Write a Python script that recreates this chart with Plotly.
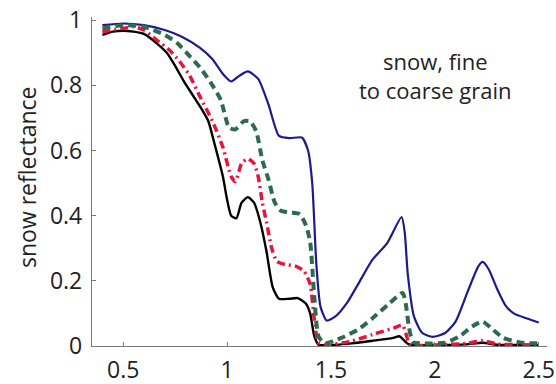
import plotly.graph_objects as go

# Spectral reflectance of snow, four grain sizes (fine -> coarse)
wl_fine = [0.40, 0.50, 0.60, 0.70, 0.78, 0.87, 0.93, 0.98, 1.02, 1.06, 1.10, 1.15, 1.20,
           1.25, 1.30, 1.36, 1.39, 1.41, 1.43, 1.45, 1.48, 1.52, 1.58, 1.64, 1.70, 1.77,
           1.84, 1.855, 1.87, 1.90, 1.94, 1.99, 2.05, 2.10, 2.16, 2.21, 2.23, 2.26, 2.30,
           2.34, 2.38, 2.44, 2.50]
refl_fine = [0.985, 0.99, 0.985, 0.97, 0.95, 0.915, 0.88, 0.835, 0.812, 0.83, 0.843, 0.82, 0.74,
             0.645, 0.638, 0.64, 0.60, 0.50, 0.25, 0.12, 0.078, 0.09, 0.135, 0.20, 0.265, 0.315,
             0.396, 0.35, 0.22, 0.09, 0.04, 0.028, 0.04, 0.075, 0.17, 0.245, 0.258, 0.235, 0.175,
             0.125, 0.10, 0.085, 0.072]

wl_medium = [0.40, 0.50, 0.60, 0.70, 0.76, 0.82, 0.87, 0.92, 0.97, 1.01, 1.04, 1.08, 1.11,
             1.14, 1.17, 1.20, 1.23, 1.26, 1.30, 1.35, 1.38, 1.40, 1.42, 1.44, 1.47, 1.55,
             1.63, 1.70, 1.78, 1.845, 1.86, 1.875, 1.895, 1.95, 2.05, 2.12, 2.18, 2.23, 2.28,
             2.33, 2.42, 2.50]
refl_medium = [0.975, 0.985, 0.98, 0.955, 0.93, 0.89, 0.855, 0.81, 0.755, 0.67, 0.665, 0.69, 0.69,
               0.66, 0.57, 0.51, 0.44, 0.415, 0.41, 0.405, 0.37, 0.32, 0.15, 0.03, 0.008, 0.025,
               0.05, 0.085, 0.13, 0.163, 0.13, 0.06, 0.012, 0.008, 0.01, 0.03, 0.06, 0.075, 0.05,
               0.025, 0.01, 0.008]

wl_coarse = [0.40, 0.50, 0.55, 0.60, 0.66, 0.72, 0.77, 0.82, 0.87, 0.93, 0.98, 1.02, 1.04,
             1.07, 1.10, 1.13, 1.15, 1.17, 1.19, 1.215, 1.24, 1.28, 1.33, 1.37, 1.40, 1.42,
             1.44, 1.48, 1.60, 1.70, 1.80, 1.845, 1.86, 1.88, 2.00, 2.15, 2.23, 2.30, 2.40, 2.50]
refl_coarse = [0.965, 0.975, 0.98, 0.97, 0.94, 0.91, 0.875, 0.83, 0.765, 0.69, 0.61, 0.52, 0.505,
               0.56, 0.575, 0.56, 0.52, 0.44, 0.38, 0.30, 0.26, 0.25, 0.245, 0.23, 0.19, 0.08,
               0.01, 0.003, 0.015, 0.035, 0.055, 0.064, 0.04, 0.005, 0.003, 0.008, 0.016, 0.006,
               0.004, 0.003]

wl_vcoarse = [0.40, 0.45, 0.50, 0.55, 0.60, 0.66, 0.71, 0.75, 0.79, 0.84, 0.88, 0.91, 0.94,
              0.98, 1.00, 1.02, 1.045, 1.07, 1.10, 1.13, 1.16, 1.19, 1.22, 1.25, 1.30, 1.34,
              1.38, 1.40, 1.42, 1.44, 1.50, 1.60, 1.70, 1.80, 1.83, 1.86, 1.88, 2.00, 2.15,
              2.23, 2.30, 2.50]
refl_vcoarse = [0.955, 0.965, 0.968, 0.965, 0.958, 0.93, 0.90, 0.86, 0.815, 0.765, 0.725, 0.69, 0.62,
                0.52, 0.45, 0.40, 0.392, 0.44, 0.457, 0.44, 0.38, 0.29, 0.18, 0.145, 0.145, 0.147,
                0.13, 0.10, 0.03, 0.004, 0.003, 0.008, 0.016, 0.025, 0.03, 0.012, 0.004, 0.003,
                0.005, 0.01, 0.004, 0.003]

x_ticks = [0.5, 1, 1.5, 2, 2.5]
y_ticks = [0, 0.2, 0.4, 0.6, 0.8, 1]
y_title = "snow reflectance"
note = "snow, fine<br>to coarse grain"

series = [
    (wl_vcoarse, refl_vcoarse, "#000000", "solid", 2.4),
    (wl_fine, refl_fine, "#1e1a8c", "solid", 2.2),
    (wl_coarse, refl_coarse, "#e8143c", "8px,4px,2px,4px", 3.5),
    (wl_medium, refl_medium, "#2f6a4f", "8px,5px", 4),
]

fig = go.Figure()
for wx, wy, col, dash, w in series:
    fig.add_trace(go.Scatter(
        x=wx, y=wy, mode="lines",
        line=dict(color=col, dash=dash, width=w, shape="spline", smoothing=0.6),
        showlegend=False, hoverinfo="skip",
    ))

font_family = "Open Sans, Noto Sans, sans-serif"
text_color = "#222222"
axis_common = dict(
    showline=True, linecolor="#7a7a7a", linewidth=1.3,
    showgrid=False, zeroline=False, mirror=False, automargin=False,
    ticks="inside", ticklen=4, tickcolor="#7a7a7a", tickwidth=1,
    tickfont=dict(size=23, color=text_color, family=font_family),
)

# plot area spans x pixels 92..547 and y pixels 17..346
plot_w, plot_h = 455, 329

fig.update_layout(
    width=556, height=384,
    margin=dict(l=92, r=9, t=17, b=38),
    paper_bgcolor="white", plot_bgcolor="white",
    xaxis=dict(range=[0.35, 2.54], tickvals=x_ticks, ticktext=[f"{v:g}" for v in x_ticks],
               ticklabelstandoff=3, **axis_common),
    yaxis=dict(range=[0, 1.01], tickvals=y_ticks, ticktext=[f"{v:g}" for v in y_ticks],
               ticklabelstandoff=4, **axis_common),
    annotations=[
        dict(text=note, xref="paper", yref="paper",
             x=(435 - 92) / plot_w, y=(346 - 75) / plot_h, xanchor="center", yanchor="middle",
             showarrow=False, align="center",
             font=dict(size=22, color=text_color, family=font_family)),
        dict(text=y_title, xref="paper", yref="paper", textangle=-90,
             x=(27 - 92) / plot_w, y=(346 - 177) / plot_h, xanchor="center", yanchor="middle",
             showarrow=False,
             font=dict(size=23, color=text_color, family=font_family)),
    ],
)

fig.write_html("out.html")
